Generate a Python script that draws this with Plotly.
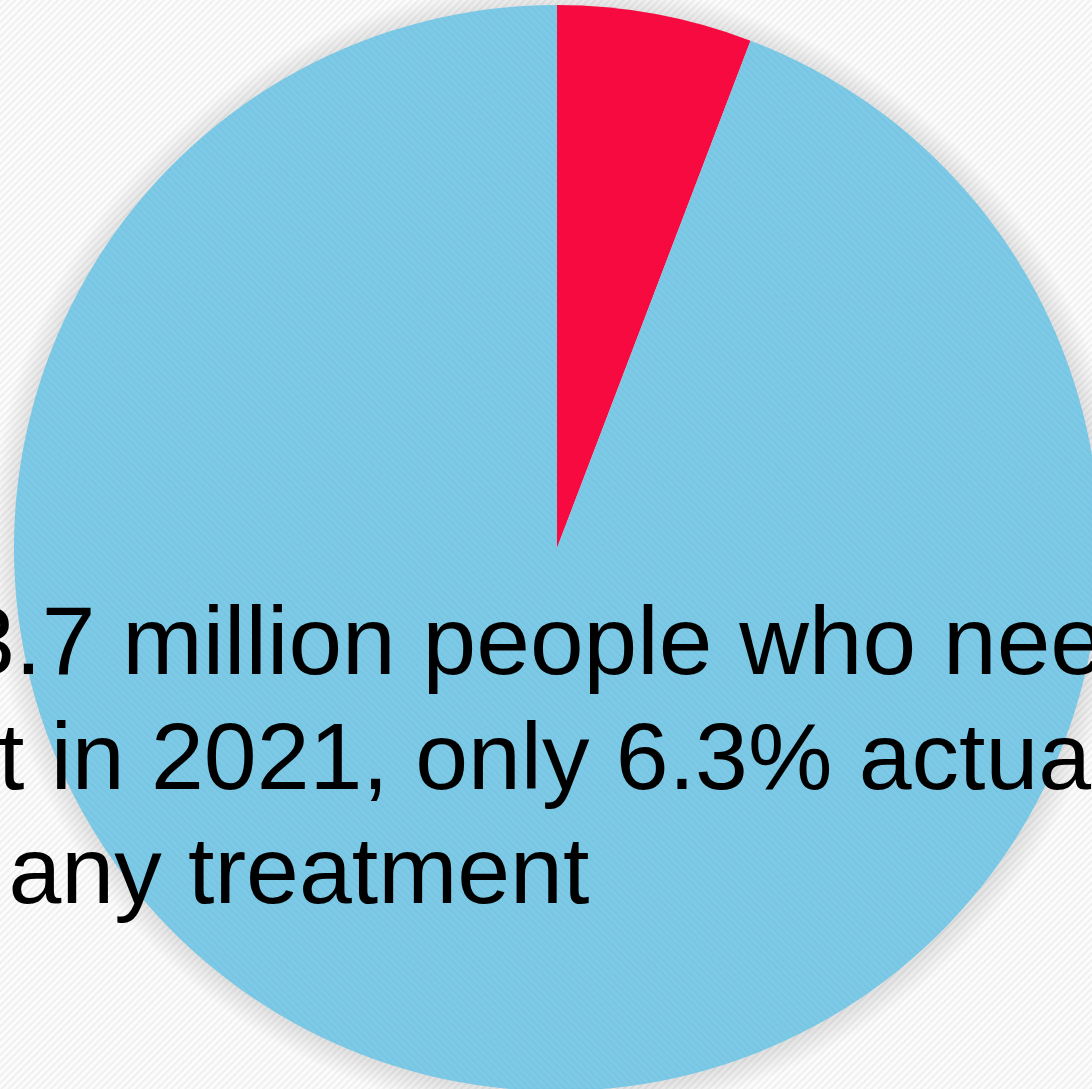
import base64
import plotly.graph_objects as go

# ---- data ----
labels = ["Received any treatment", "Did not receive treatment"]
values = [5.8, 94.2]
colors = ["#F70A40", "#7ECAE6"]
text_lines = [
    "Of the 43.7 million people who needed",
    "treatment in 2021, only 6.3% actually",
    "received any treatment",
]

# figure slightly larger than the window; the page clips the overflow
W, H = 1100, 1092

# pie domain (paper fractions): circle centre (557, 548), radius 543
dom_x = [14 / W, 1.0]
dom_y = [1 / H, 1.0 - 5 / H]

fig = go.Figure()
fig.add_trace(go.Pie(
    labels=labels,
    values=values,
    sort=False,
    direction="clockwise",
    rotation=0,
    textinfo="none",
    hoverinfo="label+percent",
    showlegend=False,
    domain=dict(x=dom_x, y=dom_y),
    marker=dict(
        colors=colors,
        line=dict(width=0),
        pattern=dict(shape=["", "\\"], fillmode="overlay", fgcolor="#5FB6D8",
                     fgopacity=0.25, size=5, solidity=0.4),
    ),
))

# background stripes as an svg pattern image
svg = f"""<svg xmlns='http://www.w3.org/2000/svg' width='{W}' height='{H}'>
<defs><pattern id='p' width='5' height='5' patternUnits='userSpaceOnUse' patternTransform='rotate(45)'>
<rect width='5' height='5' fill='#FCFCFC'/><rect width='2' height='5' fill='#F0F0F0'/></pattern></defs>
<rect width='{W}' height='{H}' fill='url(#p)'/></svg>"""
src = "data:image/svg+xml;base64," + base64.b64encode(svg.encode()).decode()

# pie geometry in px for the soft shadow
dw = (dom_x[1] - dom_x[0]) * W
dh = (dom_y[1] - dom_y[0]) * H
r = min(dw, dh) / 2
cx = (dom_x[0] + dom_x[1]) / 2 * W
cy = (1 - (dom_y[0] + dom_y[1]) / 2) * H

shapes = []
for k in range(26, 0, -1):
    R = r + k
    shapes.append(dict(
        type="circle", xref="paper", yref="paper", layer="below",
        x0=(cx - R + 1) / W, x1=(cx + R + 1) / W,
        y0=1 - (cy + R + 2) / H, y1=1 - (cy - R + 2) / H,
        fillcolor="rgba(0,0,0,0.0045)", line=dict(width=0),
    ))

baselines = [674, 789, 903]
sizes = [96.5, 95, 95]
lefts = [-384, -379, -379]
annotations = []
for line, b, fs, xl in zip(text_lines, baselines, sizes, lefts):
    annotations.append(dict(
        text=line, xref="paper", yref="paper",
        x=xl / W, xanchor="left",
        y=1 - (b - 0.3465 * fs) / H, yanchor="middle",
        showarrow=False, align="left",
        font=dict(family="Liberation Sans, Arial, sans-serif", size=fs, color="#000000"),
    ))

fig.update_layout(
    width=W, height=H,
    margin=dict(l=0, r=0, t=0, b=0),
    paper_bgcolor="#F8F8F8",
    plot_bgcolor="rgba(0,0,0,0)",
    images=[dict(source=src, xref="paper", yref="paper", x=0, y=1,
                 sizex=1, sizey=1, xanchor="left", yanchor="top",
                 sizing="stretch", layer="below")],
    shapes=shapes,
    annotations=annotations,
)

fig.write_html(
    "out.html",
    config={"displayModeBar": False},
    post_script="document.documentElement.style.overflow='hidden';"
                "document.body.style.margin='0';document.body.style.overflow='hidden';",
)
